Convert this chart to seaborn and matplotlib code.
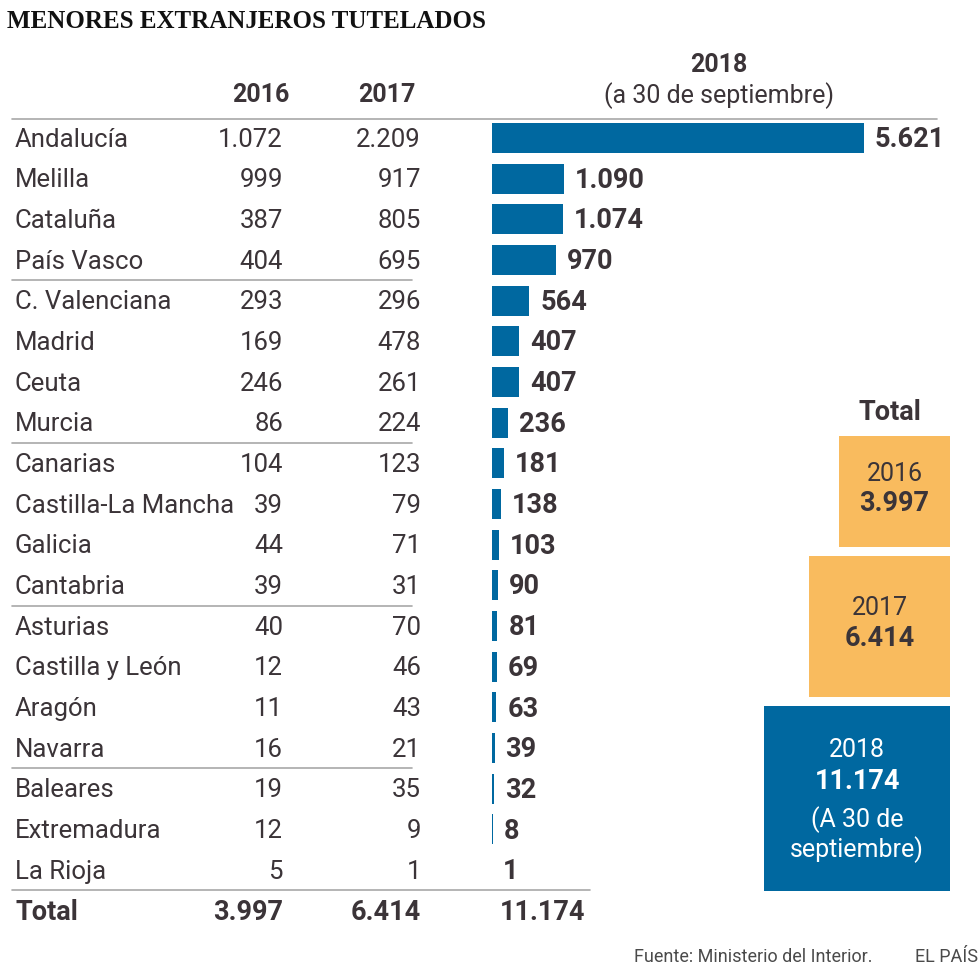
import numpy as np
import pandas as pd
import matplotlib
matplotlib.use("Agg")
import matplotlib.pyplot as plt
import matplotlib.transforms as mtransforms
from matplotlib.patches import Rectangle
import seaborn as sns

# ---------------- data ----------------
regions = ["Andalucía", "Melilla", "Cataluña", "País Vasco", "C. Valenciana",
           "Madrid", "Ceuta", "Murcia", "Canarias", "Castilla-La Mancha",
           "Galicia", "Cantabria", "Asturias", "Castilla y León", "Aragón",
           "Navarra", "Baleares", "Extremadura", "La Rioja"]
v2016 = [1072, 999, 387, 404, 293, 169, 246, 86, 104, 39, 44, 39, 40, 12, 11, 16, 19, 12, 5]
v2017 = [2209, 917, 805, 695, 296, 478, 261, 224, 123, 79, 71, 31, 70, 46, 43, 21, 35, 9, 1]
v2018 = [5621, 1090, 1074, 970, 564, 407, 407, 236, 181, 138, 103, 90, 81, 69, 63, 39, 32, 8, 1]
years = ["2016", "2017", "2018"]
title = "MENORES EXTRANJEROS TUTELADOS"
source = "Fuente: Ministerio del Interior."
brand = "EL PAÍS"

df = pd.DataFrame({"region": regions, "v2016": v2016, "v2017": v2017, "v2018": v2018})
totals = [int(df["v2016"].sum()), int(df["v2017"].sum()), int(df["v2018"].sum())]


def fmt(n):
    return f"{n:,}".replace(",", ".")


# ---------------- style ----------------
sns.set_theme(style="white")
plt.rcParams["font.family"] = ["Roboto", "DejaVu Sans"]

BLUE = "#0068a0"
ORANGE = "#f9bb5e"
DARK = "#3b3438"
GRAY = "#a8a8a8"

W = H = 980
fig = plt.figure(figsize=(9.8, 9.8), dpi=100)
fig.patch.set_facecolor("white")

# bar axes: from x=492 px to right edge, full height
ax = fig.add_axes([492 / W, 0, (W - 492) / W, 1])
sns.barplot(data=df, x="v2018", y="region", orient="h", color=BLUE,
            width=0.74, linewidth=0, saturation=1, ax=ax)
px_per_unit = 372 / 5621
pitch = 40.67
row0 = 138
ax.set_xlim(0, (W - 492) / px_per_unit)
ax.set_ylim((H - row0) / pitch, -row0 / pitch)
ax.axis("off")

trans = mtransforms.blended_transform_factory(fig.transFigure, ax.transData)
dy = 0.04  # small downward nudge for text centring
n = len(regions)

FS = 18.5
# table rows
for i, (r, a, b, c) in enumerate(zip(regions, v2016, v2017, v2018)):
    fig.text(15 / W, i + dy, r, transform=trans, ha="left", va="center",
             fontsize=FS, color=DARK, fontweight="normal")
    fig.text(283 / W, i + dy, fmt(a), transform=trans, ha="right", va="center",
             fontsize=FS, color=DARK, fontweight="normal")
    fig.text(421 / W, i + dy, fmt(b), transform=trans, ha="right", va="center",
             fontsize=FS, color=DARK, fontweight="normal")
    ax.annotate(fmt(c), xy=(c, i + dy), xytext=(11 * 0.72, 0), textcoords="offset points",
                ha="left", va="center", fontsize=19.5, fontweight="bold", color=DARK)

# total row
tr = n + dy
fig.text(15 / W, tr, "Total", transform=trans, ha="left", va="center",
         fontsize=19.5, color=DARK, fontweight="bold")
fig.text(283 / W, tr, fmt(totals[0]), transform=trans, ha="right", va="center",
         fontsize=19.5, color=DARK, fontweight="bold")
fig.text(421 / W, tr, fmt(totals[1]), transform=trans, ha="right", va="center",
         fontsize=19.5, color=DARK, fontweight="bold")
fig.text(500 / W, tr, fmt(totals[2]), transform=trans, ha="left", va="center",
         fontsize=19.5, color=DARK, fontweight="bold")

# separator lines
def hline(y, x0, x1):
    fig.add_artist(plt.Line2D([x0 / W, x1 / W], [y, y], transform=trans,
                              color=GRAY, lw=1.2))

hline(-0.47, 12, 937)
for g in (3, 7, 11, 15):
    hline(g + 0.5, 12, 412)
hline(n - 0.5, 12, 590)

# headers
fig.text(261 / W, 1 - 95 / H, years[0], ha="center", va="center",
         fontsize=18, fontweight="bold", color=DARK)
fig.text(387 / W, 1 - 95 / H, years[1], ha="center", va="center",
         fontsize=18, fontweight="bold", color=DARK)
fig.text(719 / W, 1 - 65 / H, years[2], ha="center", va="center",
         fontsize=18, fontweight="bold", color=DARK)
fig.text(719 / W, 1 - 96 / H, "(a 30 de septiembre)", ha="center", va="center",
         fontsize=18, fontweight="normal", color=DARK)

# title
fig.text(7 / W, 1 - 22 / H, title, ha="left", va="center",
         fontsize=18, fontweight="bold", color="#111111",
         family=["Liberation Serif", "DejaVu Serif"])

# total squares (area proportional to total)
ax0 = fig.add_axes([0, 0, 1, 1], facecolor="none")
ax0.set_xlim(0, W)
ax0.set_ylim(H, 0)
ax0.axis("off")
k = 111 / np.sqrt(totals[0])
right = 950
top = 436
gap = 9
fills = [ORANGE, ORANGE, BLUE]
txtc = [DARK, DARK, "white"]
ax0.text(890, 412, "Total", ha="center", va="center", fontsize=19.5,
         fontweight="bold", color=DARK)
for j, t in enumerate(totals):
    s = k * np.sqrt(t)
    ax0.add_patch(Rectangle((right - s, top), s, s, facecolor=fills[j], edgecolor="none"))
    cx = right - s / 2
    cy = top + s / 2
    if j < 2:
        ax0.text(cx, cy - 18, years[j], ha="center", va="center", fontsize=18,
                 fontweight="normal", color=txtc[j])
        ax0.text(cx, cy + 12, fmt(t), ha="center", va="center", fontsize=19.5,
                 fontweight="bold", color=txtc[j])
    else:
        ax0.text(cx, cy - 48, years[j], ha="center", va="center", fontsize=18,
                 fontweight="normal", color=txtc[j])
        ax0.text(cx, cy - 17, fmt(t), ha="center", va="center", fontsize=19.5,
                 fontweight="bold", color=txtc[j])
        ax0.text(cx, cy + 21, "(A 30 de", ha="center", va="center", fontsize=18,
                 fontweight="normal", color=txtc[j])
        ax0.text(cx, cy + 51, "septiembre)", ha="center", va="center", fontsize=18,
                 fontweight="normal", color=txtc[j])
    top = top + s + gap

# footer
ax0.text(872, 957, source, ha="right", va="center", fontsize=13,
         fontweight="normal", color="#4a4a4a")
ax0.text(978, 957, brand, ha="right", va="center", fontsize=13,
         fontweight="normal", color="#4a4a4a")

fig.savefig("out.png", dpi=100, facecolor="white")
